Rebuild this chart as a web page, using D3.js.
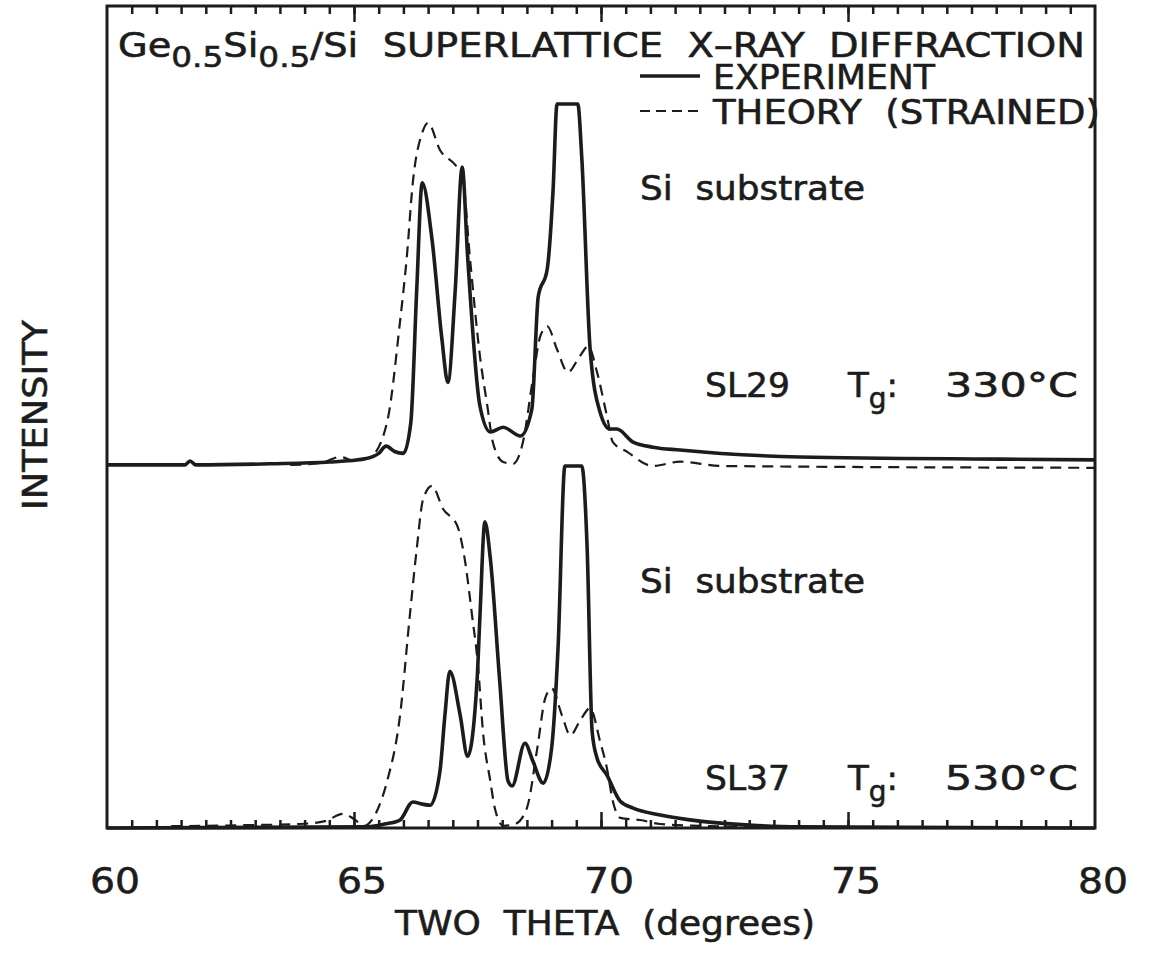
<!DOCTYPE html>
<html>
<head>
<meta charset="utf-8">
<script src="https://cdn.jsdelivr.net/npm/d3@7"></script>
<style>
body { margin: 0; background: #fff; }
svg text { font-family: "DejaVu Sans", sans-serif; fill: #1c1c1c; stroke: #1c1c1c; stroke-width: 0.6; white-space: pre; }
</style>
</head>
<body>
<svg id="chart" width="1157" height="968"></svg>
<script>
// two theta (deg), intensity (normalised, 1 = clipped substrate peak)
var sl29Exp = [[60,0.003],[61.58,0.003],[61.68,0.014],[61.80,0.003],[63.30,0.006],[64.51,0.011],[65.22,0.02],
	[65.50,0.035],[65.65,0.055],[65.82,0.04],[66.00,0.035],[66.15,0.12],[66.27,0.488],[66.38,0.782],[66.58,0.625],
	[66.78,0.35],[66.90,0.231],[67.05,0.488],[67.19,0.826],[67.30,0.579],[67.55,0.165],[67.76,0.094],[68.02,0.107],
	[68.37,0.083],[68.60,0.157],[68.73,0.468],[68.91,0.543],[69.03,0.763],[69.11,1],[69.53,1],[69.61,0.854],
	[69.78,0.322],[69.98,0.149],[70.18,0.102],[70.32,0.102],[70.65,0.066],[71.05,0.052],[71.60,0.044],[74.03,0.025],
	[78.08,0.019],[80,0.017]];
var sl29Theory = [[63.71,0.003],[64.32,0.008],[64.72,0.025],[65.02,0.014],[65.33,0.025],[65.67,0.121],[65.93,0.397],
	[66.07,0.579],[66.19,0.782],[66.38,0.92],[66.50,0.948],[66.74,0.873],[67.05,0.832],[67.19,0.804],[67.35,0.57],
	[67.55,0.303],[67.70,0.165],[67.81,0.066],[68.02,0.011],[68.22,0.006],[68.42,0.066],[68.62,0.24],[68.77,0.358],
	[68.91,0.386],[69.11,0.322],[69.33,0.259],[69.57,0.303],[69.74,0.331],[69.92,0.259],[70.12,0.138],[70.24,0.066],
	[70.53,0.039],[71.05,0],[71.60,0.012],[72.43,0],[80,-0.005]];
var sl37Exp = [[60,0],[65.22,0.003],[65.62,0.011],[65.93,0.022],[66.19,0.072],[66.38,0.066],[66.54,0.063],[66.74,0.157],
	[66.84,0.311],[66.94,0.433],[67.15,0.311],[67.30,0.198],[67.49,0.405],[67.55,0.587],[67.65,0.846],[67.76,0.744],
	[67.95,0.405],[68.12,0.129],[68.20,0.116],[68.46,0.234],[68.62,0.185],[68.83,0.124],[69.00,0.22],[69.13,0.496],
	[69.27,1],[69.61,1],[69.72,0.771],[69.82,0.267],[69.92,0.193],[70.12,0.146],[70.39,0.074],[70.65,0.055],
	[71.20,0.036],[72.00,0.019],[73.01,0.008],[74.03,0.003],[80,0]];
var sl37Theory = [[61.30,0.005],[62.89,0.008],[63.90,0.011],[64.41,0.019],[64.78,0.039],[65.00,0.025],[65.20,0.006],
	[65.39,0.028],[65.50,0.058],[65.67,0.129],[65.93,0.309],[66.13,0.587],[66.27,0.771],[66.40,0.909],[66.58,0.945],
	[66.80,0.882],[67.09,0.835],[67.24,0.744],[67.39,0.587],[67.51,0.449],[67.61,0.267],[67.76,0.129],[67.85,0.055],
	[68.02,0.006],[68.26,0.011],[68.50,0.055],[68.71,0.22],[68.87,0.358],[69.00,0.386],[69.21,0.311],[69.38,0.256],
	[69.57,0.295],[69.78,0.331],[69.98,0.24],[70.12,0.165],[70.24,0.074],[70.39,0.028],[70.79,0.022],[71.20,0.011],
	[72.00,0.006],[73.01,0.003],[74.03,0]];
var sl29Offset = 1.0;
var xTicks = [60, 65, 70, 75, 80];

var svg = d3.select("#chart"),
	plotLeft = 107, plotRight = 1095, plotTop = 6, plotBottom = 828;

var x = d3.scaleLinear().domain([60, 80]).range([plotLeft, plotRight]);
var y = d3.scaleLinear().domain([0, 2.2707]).range([plotBottom, plotTop]);

var ink = "#1c1c1c";

function curve(data, offset, dashed){
	var line = d3.line()
		.curve(d3.curveMonotoneX)
		.x(function(d){ return x(d[0]); })
		.y(function(d){ return y(d[1] + offset); });
	svg.append("path")
		.datum(data)
		.attr("d", line)
		.attr("fill", "none")
		.attr("stroke", ink)
		.attr("stroke-linejoin", "round")
		.attr("stroke-width", dashed ? 2.2 : 3.6)
		.attr("stroke-dasharray", dashed ? "11,7" : null);
}
curve(sl37Theory, 0, true);
curve(sl29Theory, sl29Offset, true);
curve(sl37Exp, 0, false);
curve(sl29Exp, sl29Offset, false);

// frame
svg.append("rect")
	.attr("x", plotLeft).attr("y", plotTop)
	.attr("width", plotRight - plotLeft).attr("height", plotBottom - plotTop)
	.attr("fill", "none").attr("stroke", ink).attr("stroke-width", 3);

// ticks on bottom (pointing up) and top (pointing down)
var minor = d3.range(60.5, 80, 0.5);
svg.append("g").attr("transform", "translate(0," + plotBottom + ")")
	.call(d3.axisBottom(x).tickValues(minor).tickSize(-8).tickFormat(""));
svg.append("g").attr("transform", "translate(0," + plotTop + ")")
	.call(d3.axisTop(x).tickValues(minor).tickSize(-8).tickFormat(""));
svg.append("g").attr("transform", "translate(0," + plotBottom + ")")
	.call(d3.axisBottom(x).tickValues([65, 70, 75]).tickSize(-16).tickFormat(""));
svg.append("g").attr("transform", "translate(0," + plotTop + ")")
	.call(d3.axisTop(x).tickValues([65, 70, 75]).tickSize(-16).tickFormat(""));
svg.selectAll(".domain").remove();
svg.selectAll(".tick line").attr("stroke", ink).attr("stroke-width", 2.5);

// tick labels
svg.selectAll("text.xl")
	.data(xTicks)
	.enter().append("text")
	.attr("class", "xl")
	.attr("x", function(d){ return x(d) + 8; })
	.attr("y", 893)
	.attr("text-anchor", "middle")
	.attr("font-size", 35)
	.attr("textLength", 50).attr("lengthAdjust", "spacingAndGlyphs")
	.text(function(d){ return d; });

svg.append("text")
	.attr("x", 395).attr("y", 935)
	.attr("font-size", 34)
	.attr("textLength", 420).attr("lengthAdjust", "spacingAndGlyphs")
	.text("TWO  THETA  (degrees)");

svg.append("text")
	.attr("transform", "translate(47,415) rotate(-90)")
	.attr("text-anchor", "middle").attr("font-size", 34)
	.attr("textLength", 190).attr("lengthAdjust", "spacingAndGlyphs")
	.text("INTENSITY");

// title
var title = svg.append("text")
	.attr("x", 118).attr("y", 57).attr("font-size", 34)
	.attr("textLength", 967).attr("lengthAdjust", "spacingAndGlyphs");
title.append("tspan").text("Ge");
title.append("tspan").attr("dy", 10).attr("font-size", 29).text("0.5");
title.append("tspan").attr("dy", -10).text("Si");
title.append("tspan").attr("dy", 10).attr("font-size", 29).text("0.5");
title.append("tspan").attr("dy", -10).text("/Si  SUPERLATTICE  X\u2013RAY  DIFFRACTION");

// legend
var legend = [{label: "EXPERIMENT", dashed: false, y: 76, len: 222},
	{label: "THEORY  (STRAINED)", dashed: true, y: 111, len: 387}];
legend.forEach(function(l){
	svg.append("line")
		.attr("x1", 640).attr("x2", 700).attr("y1", l.y).attr("y2", l.y)
		.attr("stroke", ink).attr("stroke-width", l.dashed ? 2.2 : 3.6)
		.attr("stroke-dasharray", l.dashed ? "10,6" : null);
	svg.append("text")
		.attr("x", 713).attr("y", l.y + 13).attr("font-size", 34)
		.attr("textLength", l.len).attr("lengthAdjust", "spacingAndGlyphs")
		.text(l.label);
});

// sample annotations
var samples = [{name: "SL29", temp: "330", base: 397}, {name: "SL37", temp: "530", base: 790}];
samples.forEach(function(s){
	svg.append("text")
		.attr("x", 640).attr("y", s.base - 197).attr("font-size", 34)
		.attr("textLength", 225).attr("lengthAdjust", "spacingAndGlyphs")
		.text("Si  substrate");
	svg.append("text")
		.attr("x", 705).attr("y", s.base).attr("font-size", 34)
		.attr("textLength", 85).attr("lengthAdjust", "spacingAndGlyphs")
		.text(s.name);
	var t = svg.append("text").attr("x", 848).attr("y", s.base).attr("font-size", 34);
	t.append("tspan").text("T");
	t.append("tspan").attr("dy", 11).attr("font-size", 28).text("g");
	t.append("tspan").attr("dy", -11).text(":");
	svg.append("text")
		.attr("x", 945).attr("y", s.base).attr("font-size", 34)
		.attr("textLength", 133).attr("lengthAdjust", "spacingAndGlyphs")
		.text(s.temp + "\u00B0C");
});
</script>
</body>
</html>
